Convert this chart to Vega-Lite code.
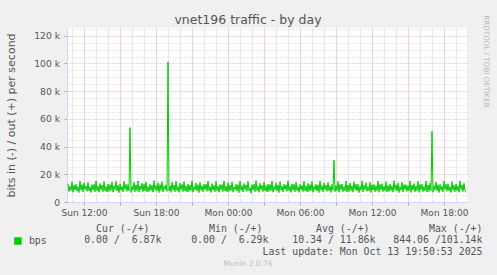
{
  "$schema": "https://vega.github.io/schema/vega-lite/v6.json",
  "autosize": "none",
  "width": 400,
  "height": 174,
  "padding": {"left": 67, "top": 28, "right": 30, "bottom": 73},
  "background": "#f0f0f0",
  "config": {
    "view": {"fill": "#ffffff", "stroke": null},
    "font": "DejaVu Sans"
  },
  "title": {
    "text": "vnet196 traffic - by day",
    "anchor": "middle",
    "frame": "group",
    "dx": -19,
    "dy": 14,
    "font": "DejaVu Sans",
    "fontSize": 12.5,
    "fontWeight": "normal",
    "color": "#555555",
    "offset": 2
  },
  "resolve": {"axis": {"x": "independent", "y": "independent"}},
  "layer": [
    {
      "data": {"values": [
        {"t":"2025-10-12T10:40:00Z","v":13200},{"t":"2025-10-12T10:45:00Z","v":7600},
        {"t":"2025-10-12T10:50:00Z","v":11400},{"t":"2025-10-12T10:55:00Z","v":8300},
        {"t":"2025-10-12T11:00:00Z","v":14600},{"t":"2025-10-12T11:05:00Z","v":7100},
        {"t":"2025-10-12T11:10:00Z","v":12100},{"t":"2025-10-12T11:15:00Z","v":8800},
        {"t":"2025-10-12T11:20:00Z","v":12800},{"t":"2025-10-12T11:25:00Z","v":7900},
        {"t":"2025-10-12T11:30:00Z","v":11000},{"t":"2025-10-12T11:35:00Z","v":6800},
        {"t":"2025-10-12T11:40:00Z","v":15100},{"t":"2025-10-12T11:45:00Z","v":8500},
        {"t":"2025-10-12T11:50:00Z","v":12600},{"t":"2025-10-12T11:55:00Z","v":7300},
        {"t":"2025-10-12T12:00:00Z","v":13900},{"t":"2025-10-12T12:05:00Z","v":9000},
        {"t":"2025-10-12T12:10:00Z","v":11700},{"t":"2025-10-12T12:15:00Z","v":7700},
        {"t":"2025-10-12T12:20:00Z","v":14200},{"t":"2025-10-12T12:25:00Z","v":8100},
        {"t":"2025-10-12T12:30:00Z","v":10900},{"t":"2025-10-12T12:35:00Z","v":6900},
        {"t":"2025-10-12T12:40:00Z","v":12500},{"t":"2025-10-12T12:45:00Z","v":8600},
        {"t":"2025-10-12T12:50:00Z","v":12800},{"t":"2025-10-12T12:55:00Z","v":7400},
        {"t":"2025-10-12T13:00:00Z","v":15300},{"t":"2025-10-12T13:05:00Z","v":8200},
        {"t":"2025-10-12T13:10:00Z","v":11500},{"t":"2025-10-12T13:15:00Z","v":7000},
        {"t":"2025-10-12T13:20:00Z","v":13400},{"t":"2025-10-12T13:25:00Z","v":8900},
        {"t":"2025-10-12T13:30:00Z","v":12200},{"t":"2025-10-12T13:35:00Z","v":7500},
        {"t":"2025-10-12T13:40:00Z","v":14800},{"t":"2025-10-12T13:45:00Z","v":8000},
        {"t":"2025-10-12T13:50:00Z","v":11100},{"t":"2025-10-12T13:55:00Z","v":7200},
        {"t":"2025-10-12T14:00:00Z","v":12900},{"t":"2025-10-12T14:05:00Z","v":7600},
        {"t":"2025-10-12T14:10:00Z","v":12500},{"t":"2025-10-12T14:15:00Z","v":8300},
        {"t":"2025-10-12T14:20:00Z","v":14500},{"t":"2025-10-12T14:25:00Z","v":7100},
        {"t":"2025-10-12T14:30:00Z","v":11800},{"t":"2025-10-12T14:35:00Z","v":8800},
        {"t":"2025-10-12T14:40:00Z","v":15000},{"t":"2025-10-12T14:45:00Z","v":7900},
        {"t":"2025-10-12T14:50:00Z","v":12000},{"t":"2025-10-12T14:55:00Z","v":6800},
        {"t":"2025-10-12T15:00:00Z","v":13100},{"t":"2025-10-12T15:05:00Z","v":8500},
        {"t":"2025-10-12T15:10:00Z","v":11300},{"t":"2025-10-12T15:15:00Z","v":7300},
        {"t":"2025-10-12T15:20:00Z","v":14900},{"t":"2025-10-12T15:25:00Z","v":9000},
        {"t":"2025-10-12T15:30:00Z","v":12700},{"t":"2025-10-12T15:35:00Z","v":7700},
        {"t":"2025-10-12T15:40:00Z","v":12600},{"t":"2025-10-12T15:45:00Z","v":8100},
        {"t":"2025-10-12T15:50:00Z","v":53700},{"t":"2025-10-12T15:55:00Z","v":6900},
        {"t":"2025-10-12T16:00:00Z","v":11200},{"t":"2025-10-12T16:05:00Z","v":8600},
        {"t":"2025-10-12T16:10:00Z","v":14100},{"t":"2025-10-12T16:15:00Z","v":7400},
        {"t":"2025-10-12T16:20:00Z","v":12400},{"t":"2025-10-12T16:25:00Z","v":8200},
        {"t":"2025-10-12T16:30:00Z","v":15200},{"t":"2025-10-12T16:35:00Z","v":7000},
        {"t":"2025-10-12T16:40:00Z","v":11600},{"t":"2025-10-12T16:45:00Z","v":8900},
        {"t":"2025-10-12T16:50:00Z","v":13600},{"t":"2025-10-12T16:55:00Z","v":7500},
        {"t":"2025-10-12T17:00:00Z","v":12900},{"t":"2025-10-12T17:05:00Z","v":8000},
        {"t":"2025-10-12T17:10:00Z","v":14400},{"t":"2025-10-12T17:15:00Z","v":7200},
        {"t":"2025-10-12T17:20:00Z","v":11000},{"t":"2025-10-12T17:25:00Z","v":7600},
        {"t":"2025-10-12T17:30:00Z","v":12700},{"t":"2025-10-12T17:35:00Z","v":8300},
        {"t":"2025-10-12T17:40:00Z","v":12100},{"t":"2025-10-12T17:45:00Z","v":7100},
        {"t":"2025-10-12T17:50:00Z","v":15400},{"t":"2025-10-12T17:55:00Z","v":8800},
        {"t":"2025-10-12T18:00:00Z","v":11900},{"t":"2025-10-12T18:05:00Z","v":7900},
        {"t":"2025-10-12T18:10:00Z","v":13800},{"t":"2025-10-12T18:15:00Z","v":6800},
        {"t":"2025-10-12T18:20:00Z","v":12600},{"t":"2025-10-12T18:25:00Z","v":8500},
        {"t":"2025-10-12T18:30:00Z","v":14700},{"t":"2025-10-12T18:35:00Z","v":7300},
        {"t":"2025-10-12T18:40:00Z","v":11400},{"t":"2025-10-12T18:45:00Z","v":9000},
        {"t":"2025-10-12T18:50:00Z","v":12400},{"t":"2025-10-12T18:55:00Z","v":7700},
        {"t":"2025-10-12T19:00:00Z","v":101140},{"t":"2025-10-12T19:05:00Z","v":8100},
        {"t":"2025-10-12T19:10:00Z","v":11800},{"t":"2025-10-12T19:15:00Z","v":6900},
        {"t":"2025-10-12T19:20:00Z","v":14300},{"t":"2025-10-12T19:25:00Z","v":8600},
        {"t":"2025-10-12T19:30:00Z","v":12200},{"t":"2025-10-12T19:35:00Z","v":7400},
        {"t":"2025-10-12T19:40:00Z","v":15000},{"t":"2025-10-12T19:45:00Z","v":8200},
        {"t":"2025-10-12T19:50:00Z","v":11300},{"t":"2025-10-12T19:55:00Z","v":7000},
        {"t":"2025-10-12T20:00:00Z","v":13500},{"t":"2025-10-12T20:05:00Z","v":8900},
        {"t":"2025-10-12T20:10:00Z","v":12800},{"t":"2025-10-12T20:15:00Z","v":7500},
        {"t":"2025-10-12T20:20:00Z","v":14600},{"t":"2025-10-12T20:25:00Z","v":8000},
        {"t":"2025-10-12T20:30:00Z","v":11500},{"t":"2025-10-12T20:35:00Z","v":7200},
        {"t":"2025-10-12T20:40:00Z","v":12900},{"t":"2025-10-12T20:45:00Z","v":7600},
        {"t":"2025-10-12T20:50:00Z","v":12300},{"t":"2025-10-12T20:55:00Z","v":8300},
        {"t":"2025-10-12T21:00:00Z","v":15300},{"t":"2025-10-12T21:05:00Z","v":7100},
        {"t":"2025-10-12T21:10:00Z","v":11100},{"t":"2025-10-12T21:15:00Z","v":8800},
        {"t":"2025-10-12T21:20:00Z","v":13700},{"t":"2025-10-12T21:25:00Z","v":7900},
        {"t":"2025-10-12T21:30:00Z","v":12500},{"t":"2025-10-12T21:35:00Z","v":6800},
        {"t":"2025-10-12T21:40:00Z","v":14200},{"t":"2025-10-12T21:45:00Z","v":8500},
        {"t":"2025-10-12T21:50:00Z","v":11700},{"t":"2025-10-12T21:55:00Z","v":7300},
        {"t":"2025-10-12T22:00:00Z","v":12800},{"t":"2025-10-12T22:05:00Z","v":9000},
        {"t":"2025-10-12T22:10:00Z","v":12900},{"t":"2025-10-12T22:15:00Z","v":7700},
        {"t":"2025-10-12T22:20:00Z","v":15100},{"t":"2025-10-12T22:25:00Z","v":8100},
        {"t":"2025-10-12T22:30:00Z","v":11200},{"t":"2025-10-12T22:35:00Z","v":6900},
        {"t":"2025-10-12T22:40:00Z","v":13300},{"t":"2025-10-12T22:45:00Z","v":8600},
        {"t":"2025-10-12T22:50:00Z","v":12000},{"t":"2025-10-12T22:55:00Z","v":7400},
        {"t":"2025-10-12T23:00:00Z","v":14800},{"t":"2025-10-12T23:05:00Z","v":8200},
        {"t":"2025-10-12T23:10:00Z","v":11600},{"t":"2025-10-12T23:15:00Z","v":7000},
        {"t":"2025-10-12T23:20:00Z","v":12600},{"t":"2025-10-12T23:25:00Z","v":8900},
        {"t":"2025-10-12T23:30:00Z","v":12700},{"t":"2025-10-12T23:35:00Z","v":7500},
        {"t":"2025-10-12T23:40:00Z","v":15200},{"t":"2025-10-12T23:45:00Z","v":8000},
        {"t":"2025-10-12T23:50:00Z","v":11400},{"t":"2025-10-12T23:55:00Z","v":7200},
        {"t":"2025-10-13T00:00:00Z","v":13900},{"t":"2025-10-13T00:05:00Z","v":7600},
        {"t":"2025-10-13T00:10:00Z","v":12200},{"t":"2025-10-13T00:15:00Z","v":8300},
        {"t":"2025-10-13T00:20:00Z","v":14500},{"t":"2025-10-13T00:25:00Z","v":7100},
        {"t":"2025-10-13T00:30:00Z","v":11000},{"t":"2025-10-13T00:35:00Z","v":8800},
        {"t":"2025-10-13T00:40:00Z","v":12700},{"t":"2025-10-13T00:45:00Z","v":7900},
        {"t":"2025-10-13T00:50:00Z","v":12600},{"t":"2025-10-13T00:55:00Z","v":6800},
        {"t":"2025-10-13T01:00:00Z","v":15000},{"t":"2025-10-13T01:05:00Z","v":8500},
        {"t":"2025-10-13T01:10:00Z","v":11800},{"t":"2025-10-13T01:15:00Z","v":7300},
        {"t":"2025-10-13T01:20:00Z","v":13400},{"t":"2025-10-13T01:25:00Z","v":9000},
        {"t":"2025-10-13T01:30:00Z","v":12400},{"t":"2025-10-13T01:35:00Z","v":7700},
        {"t":"2025-10-13T01:40:00Z","v":14900},{"t":"2025-10-13T01:45:00Z","v":8100},
        {"t":"2025-10-13T01:50:00Z","v":10300},{"t":"2025-10-13T01:55:00Z","v":6290},
        {"t":"2025-10-13T02:00:00Z","v":12500},{"t":"2025-10-13T02:05:00Z","v":8600},
        {"t":"2025-10-13T02:10:00Z","v":12900},{"t":"2025-10-13T02:15:00Z","v":7400},
        {"t":"2025-10-13T02:20:00Z","v":15400},{"t":"2025-10-13T02:25:00Z","v":8200},
        {"t":"2025-10-13T02:30:00Z","v":11500},{"t":"2025-10-13T02:35:00Z","v":7000},
        {"t":"2025-10-13T02:40:00Z","v":13600},{"t":"2025-10-13T02:45:00Z","v":8900},
        {"t":"2025-10-13T02:50:00Z","v":12100},{"t":"2025-10-13T02:55:00Z","v":7500},
        {"t":"2025-10-13T03:00:00Z","v":14300},{"t":"2025-10-13T03:05:00Z","v":8000},
        {"t":"2025-10-13T03:10:00Z","v":11900},{"t":"2025-10-13T03:15:00Z","v":7200},
        {"t":"2025-10-13T03:20:00Z","v":12900},{"t":"2025-10-13T03:25:00Z","v":7600},
        {"t":"2025-10-13T03:30:00Z","v":12700},{"t":"2025-10-13T03:35:00Z","v":8300},
        {"t":"2025-10-13T03:40:00Z","v":15100},{"t":"2025-10-13T03:45:00Z","v":7100},
        {"t":"2025-10-13T03:50:00Z","v":11200},{"t":"2025-10-13T03:55:00Z","v":8800},
        {"t":"2025-10-13T04:00:00Z","v":13800},{"t":"2025-10-13T04:05:00Z","v":7900},
        {"t":"2025-10-13T04:10:00Z","v":12300},{"t":"2025-10-13T04:15:00Z","v":6800},
        {"t":"2025-10-13T04:20:00Z","v":14600},{"t":"2025-10-13T04:25:00Z","v":8500},
        {"t":"2025-10-13T04:30:00Z","v":11600},{"t":"2025-10-13T04:35:00Z","v":7300},
        {"t":"2025-10-13T04:40:00Z","v":12800},{"t":"2025-10-13T04:45:00Z","v":9000},
        {"t":"2025-10-13T04:50:00Z","v":12500},{"t":"2025-10-13T04:55:00Z","v":7700},
        {"t":"2025-10-13T05:00:00Z","v":15300},{"t":"2025-10-13T05:05:00Z","v":8100},
        {"t":"2025-10-13T05:10:00Z","v":11400},{"t":"2025-10-13T05:15:00Z","v":6900},
        {"t":"2025-10-13T05:20:00Z","v":13200},{"t":"2025-10-13T05:25:00Z","v":8600},
        {"t":"2025-10-13T05:30:00Z","v":12800},{"t":"2025-10-13T05:35:00Z","v":7400},
        {"t":"2025-10-13T05:40:00Z","v":14400},{"t":"2025-10-13T05:45:00Z","v":8200},
        {"t":"2025-10-13T05:50:00Z","v":11100},{"t":"2025-10-13T05:55:00Z","v":7000},
        {"t":"2025-10-13T06:00:00Z","v":12600},{"t":"2025-10-13T06:05:00Z","v":8900},
        {"t":"2025-10-13T06:10:00Z","v":12000},{"t":"2025-10-13T06:15:00Z","v":7500},
        {"t":"2025-10-13T06:20:00Z","v":15000},{"t":"2025-10-13T06:25:00Z","v":8000},
        {"t":"2025-10-13T06:30:00Z","v":11700},{"t":"2025-10-13T06:35:00Z","v":7200},
        {"t":"2025-10-13T06:40:00Z","v":13500},{"t":"2025-10-13T06:45:00Z","v":7600},
        {"t":"2025-10-13T06:50:00Z","v":12600},{"t":"2025-10-13T06:55:00Z","v":8300},
        {"t":"2025-10-13T07:00:00Z","v":14700},{"t":"2025-10-13T07:05:00Z","v":7100},
        {"t":"2025-10-13T07:10:00Z","v":11300},{"t":"2025-10-13T07:15:00Z","v":8800},
        {"t":"2025-10-13T07:20:00Z","v":12900},{"t":"2025-10-13T07:25:00Z","v":7900},
        {"t":"2025-10-13T07:30:00Z","v":12400},{"t":"2025-10-13T07:35:00Z","v":6800},
        {"t":"2025-10-13T07:40:00Z","v":15200},{"t":"2025-10-13T07:45:00Z","v":8500},
        {"t":"2025-10-13T07:50:00Z","v":11800},{"t":"2025-10-13T07:55:00Z","v":7300},
        {"t":"2025-10-13T08:00:00Z","v":13700},{"t":"2025-10-13T08:05:00Z","v":9000},
        {"t":"2025-10-13T08:10:00Z","v":12200},{"t":"2025-10-13T08:15:00Z","v":7700},
        {"t":"2025-10-13T08:20:00Z","v":14100},{"t":"2025-10-13T08:25:00Z","v":8100},
        {"t":"2025-10-13T08:30:00Z","v":11500},{"t":"2025-10-13T08:35:00Z","v":6900},
        {"t":"2025-10-13T08:40:00Z","v":12700},{"t":"2025-10-13T08:45:00Z","v":8600},
        {"t":"2025-10-13T08:50:00Z","v":30200},{"t":"2025-10-13T08:55:00Z","v":7400},
        {"t":"2025-10-13T09:00:00Z","v":11900},{"t":"2025-10-13T09:05:00Z","v":8200},
        {"t":"2025-10-13T09:10:00Z","v":14800},{"t":"2025-10-13T09:15:00Z","v":7000},
        {"t":"2025-10-13T09:20:00Z","v":12700},{"t":"2025-10-13T09:25:00Z","v":8900},
        {"t":"2025-10-13T09:30:00Z","v":13000},{"t":"2025-10-13T09:35:00Z","v":7500},
        {"t":"2025-10-13T09:40:00Z","v":11200},{"t":"2025-10-13T09:45:00Z","v":8000},
        {"t":"2025-10-13T09:50:00Z","v":15100},{"t":"2025-10-13T09:55:00Z","v":7200},
        {"t":"2025-10-13T10:00:00Z","v":12300},{"t":"2025-10-13T10:05:00Z","v":7600},
        {"t":"2025-10-13T10:10:00Z","v":13600},{"t":"2025-10-13T10:15:00Z","v":8300},
        {"t":"2025-10-13T10:20:00Z","v":11600},{"t":"2025-10-13T10:25:00Z","v":7100},
        {"t":"2025-10-13T10:30:00Z","v":14500},{"t":"2025-10-13T10:35:00Z","v":8800},
        {"t":"2025-10-13T10:40:00Z","v":12900},{"t":"2025-10-13T10:45:00Z","v":7900},
        {"t":"2025-10-13T10:50:00Z","v":12800},{"t":"2025-10-13T10:55:00Z","v":6800},
        {"t":"2025-10-13T11:00:00Z","v":11400},{"t":"2025-10-13T11:05:00Z","v":8500},
        {"t":"2025-10-13T11:10:00Z","v":15300},{"t":"2025-10-13T11:15:00Z","v":7300},
        {"t":"2025-10-13T11:20:00Z","v":12100},{"t":"2025-10-13T11:25:00Z","v":9000},
        {"t":"2025-10-13T11:30:00Z","v":13900},{"t":"2025-10-13T11:35:00Z","v":7700},
        {"t":"2025-10-13T11:40:00Z","v":11000},{"t":"2025-10-13T11:45:00Z","v":8100},
        {"t":"2025-10-13T11:50:00Z","v":14200},{"t":"2025-10-13T11:55:00Z","v":6900},
        {"t":"2025-10-13T12:00:00Z","v":12500},{"t":"2025-10-13T12:05:00Z","v":8600},
        {"t":"2025-10-13T12:10:00Z","v":12600},{"t":"2025-10-13T12:15:00Z","v":7400},
        {"t":"2025-10-13T12:20:00Z","v":11700},{"t":"2025-10-13T12:25:00Z","v":8200},
        {"t":"2025-10-13T12:30:00Z","v":15000},{"t":"2025-10-13T12:35:00Z","v":7000},
        {"t":"2025-10-13T12:40:00Z","v":12800},{"t":"2025-10-13T12:45:00Z","v":8900},
        {"t":"2025-10-13T12:50:00Z","v":13300},{"t":"2025-10-13T12:55:00Z","v":7500},
        {"t":"2025-10-13T13:00:00Z","v":11300},{"t":"2025-10-13T13:05:00Z","v":8000},
        {"t":"2025-10-13T13:10:00Z","v":14600},{"t":"2025-10-13T13:15:00Z","v":7200},
        {"t":"2025-10-13T13:20:00Z","v":12000},{"t":"2025-10-13T13:25:00Z","v":7600},
        {"t":"2025-10-13T13:30:00Z","v":12900},{"t":"2025-10-13T13:35:00Z","v":8300},
        {"t":"2025-10-13T13:40:00Z","v":11600},{"t":"2025-10-13T13:45:00Z","v":7100},
        {"t":"2025-10-13T13:50:00Z","v":15400},{"t":"2025-10-13T13:55:00Z","v":8800},
        {"t":"2025-10-13T14:00:00Z","v":12400},{"t":"2025-10-13T14:05:00Z","v":7900},
        {"t":"2025-10-13T14:10:00Z","v":13700},{"t":"2025-10-13T14:15:00Z","v":6800},
        {"t":"2025-10-13T14:20:00Z","v":11100},{"t":"2025-10-13T14:25:00Z","v":8500},
        {"t":"2025-10-13T14:30:00Z","v":14300},{"t":"2025-10-13T14:35:00Z","v":7300},
        {"t":"2025-10-13T14:40:00Z","v":12600},{"t":"2025-10-13T14:45:00Z","v":9000},
        {"t":"2025-10-13T14:50:00Z","v":12500},{"t":"2025-10-13T14:55:00Z","v":7700},
        {"t":"2025-10-13T15:00:00Z","v":11900},{"t":"2025-10-13T15:05:00Z","v":8100},
        {"t":"2025-10-13T15:10:00Z","v":15200},{"t":"2025-10-13T15:15:00Z","v":6900},
        {"t":"2025-10-13T15:20:00Z","v":12200},{"t":"2025-10-13T15:25:00Z","v":8600},
        {"t":"2025-10-13T15:30:00Z","v":13400},{"t":"2025-10-13T15:35:00Z","v":7400},
        {"t":"2025-10-13T15:40:00Z","v":11500},{"t":"2025-10-13T15:45:00Z","v":8200},
        {"t":"2025-10-13T15:50:00Z","v":14900},{"t":"2025-10-13T15:55:00Z","v":7000},
        {"t":"2025-10-13T16:00:00Z","v":12700},{"t":"2025-10-13T16:05:00Z","v":8900},
        {"t":"2025-10-13T16:10:00Z","v":12800},{"t":"2025-10-13T16:15:00Z","v":7500},
        {"t":"2025-10-13T16:20:00Z","v":11200},{"t":"2025-10-13T16:25:00Z","v":8000},
        {"t":"2025-10-13T16:30:00Z","v":15000},{"t":"2025-10-13T16:35:00Z","v":7200},
        {"t":"2025-10-13T16:40:00Z","v":12300},{"t":"2025-10-13T16:45:00Z","v":7600},
        {"t":"2025-10-13T16:50:00Z","v":13600},{"t":"2025-10-13T16:55:00Z","v":8300},
        {"t":"2025-10-13T17:00:00Z","v":51000},{"t":"2025-10-13T17:05:00Z","v":7100},
        {"t":"2025-10-13T17:10:00Z","v":11800},{"t":"2025-10-13T17:15:00Z","v":8800},
        {"t":"2025-10-13T17:20:00Z","v":14400},{"t":"2025-10-13T17:25:00Z","v":7900},
        {"t":"2025-10-13T17:30:00Z","v":12500},{"t":"2025-10-13T17:35:00Z","v":6800},
        {"t":"2025-10-13T17:40:00Z","v":12700},{"t":"2025-10-13T17:45:00Z","v":8500},
        {"t":"2025-10-13T17:50:00Z","v":11400},{"t":"2025-10-13T17:55:00Z","v":7300},
        {"t":"2025-10-13T18:00:00Z","v":15100},{"t":"2025-10-13T18:05:00Z","v":9000},
        {"t":"2025-10-13T18:10:00Z","v":12900},{"t":"2025-10-13T18:15:00Z","v":7700},
        {"t":"2025-10-13T18:20:00Z","v":13200},{"t":"2025-10-13T18:25:00Z","v":8100},
        {"t":"2025-10-13T18:30:00Z","v":11000},{"t":"2025-10-13T18:35:00Z","v":6900},
        {"t":"2025-10-13T18:40:00Z","v":14700},{"t":"2025-10-13T18:45:00Z","v":8600},
        {"t":"2025-10-13T18:50:00Z","v":12100},{"t":"2025-10-13T18:55:00Z","v":7400},
        {"t":"2025-10-13T19:00:00Z","v":12900},{"t":"2025-10-13T19:05:00Z","v":8200},
        {"t":"2025-10-13T19:10:00Z","v":11700},{"t":"2025-10-13T19:15:00Z","v":7000},
        {"t":"2025-10-13T19:20:00Z","v":15300},{"t":"2025-10-13T19:25:00Z","v":8900},
        {"t":"2025-10-13T19:30:00Z","v":12400},{"t":"2025-10-13T19:35:00Z","v":7500},
        {"t":"2025-10-13T19:40:00Z","v":13500},{"t":"2025-10-13T19:45:00Z","v":8000},
        {"t":"2025-10-13T19:50:00Z","v":6870}
      ]},
      "mark": {"type": "line", "strokeWidth": 1, "interpolate": "linear"},
      "encoding": {
        "x": {
          "field": "t", "type": "temporal",
          "scale": {"type": "utc", "domain": [
            {"year": 2025, "month": 10, "date": 12, "hours": 10, "minutes": 35, "utc": true},
            {"year": 2025, "month": 10, "date": 13, "hours": 19, "minutes": 55, "utc": true}
          ]},
          "axis": {
            "orient": "bottom",
            "values": [
              {"year": 2025, "month": 10, "date": 12, "hours": 11, "utc": true},
              {"year": 2025, "month": 10, "date": 12, "hours": 12, "utc": true},
              {"year": 2025, "month": 10, "date": 12, "hours": 13, "utc": true},
              {"year": 2025, "month": 10, "date": 12, "hours": 14, "utc": true},
              {"year": 2025, "month": 10, "date": 12, "hours": 15, "utc": true},
              {"year": 2025, "month": 10, "date": 12, "hours": 16, "utc": true},
              {"year": 2025, "month": 10, "date": 12, "hours": 17, "utc": true},
              {"year": 2025, "month": 10, "date": 12, "hours": 18, "utc": true},
              {"year": 2025, "month": 10, "date": 12, "hours": 19, "utc": true},
              {"year": 2025, "month": 10, "date": 12, "hours": 20, "utc": true},
              {"year": 2025, "month": 10, "date": 12, "hours": 21, "utc": true},
              {"year": 2025, "month": 10, "date": 12, "hours": 22, "utc": true},
              {"year": 2025, "month": 10, "date": 12, "hours": 23, "utc": true},
              {"year": 2025, "month": 10, "date": 13, "hours": 0, "utc": true},
              {"year": 2025, "month": 10, "date": 13, "hours": 1, "utc": true},
              {"year": 2025, "month": 10, "date": 13, "hours": 2, "utc": true},
              {"year": 2025, "month": 10, "date": 13, "hours": 3, "utc": true},
              {"year": 2025, "month": 10, "date": 13, "hours": 4, "utc": true},
              {"year": 2025, "month": 10, "date": 13, "hours": 5, "utc": true},
              {"year": 2025, "month": 10, "date": 13, "hours": 6, "utc": true},
              {"year": 2025, "month": 10, "date": 13, "hours": 7, "utc": true},
              {"year": 2025, "month": 10, "date": 13, "hours": 8, "utc": true},
              {"year": 2025, "month": 10, "date": 13, "hours": 9, "utc": true},
              {"year": 2025, "month": 10, "date": 13, "hours": 10, "utc": true},
              {"year": 2025, "month": 10, "date": 13, "hours": 11, "utc": true},
              {"year": 2025, "month": 10, "date": 13, "hours": 12, "utc": true},
              {"year": 2025, "month": 10, "date": 13, "hours": 13, "utc": true},
              {"year": 2025, "month": 10, "date": 13, "hours": 14, "utc": true},
              {"year": 2025, "month": 10, "date": 13, "hours": 15, "utc": true},
              {"year": 2025, "month": 10, "date": 13, "hours": 16, "utc": true},
              {"year": 2025, "month": 10, "date": 13, "hours": 17, "utc": true},
              {"year": 2025, "month": 10, "date": 13, "hours": 18, "utc": true},
              {"year": 2025, "month": 10, "date": 13, "hours": 19, "utc": true}
            ],
            "labelExpr": "utchours(datum.value) % 6 == 0 ? utcFormat(datum.value, '%a %H:%M') : ''",
            "labelOverlap": false, "labelFlush": false, "labelBound": false,
            "labelFont": "DejaVu Sans", "labelFontSize": 9, "labelColor": "#555555",
            "labelPadding": 3,
            "tickSize": 3,
            "tickColor": {"condition": {"test": "utchours(datum.value) % 3 == 0", "value": "#e09090"}, "value": "transparent"},
            "grid": true,
            "gridColor": {"condition": {"test": "utchours(datum.value) % 3 == 0", "value": "#e2a4a4"}, "value": "#cfcfcf"},
            "gridDash": [1, 1],
            "domain": true, "domainColor": "#cfd6f8",
            "title": [
              "Cur\u00a0(-/+)\u00a0\u00a0\u00a0\u00a0\u00a0\u00a0\u00a0\u00a0\u00a0\u00a0Min\u00a0(-/+)\u00a0\u00a0\u00a0\u00a0\u00a0\u00a0\u00a0\u00a0\u00a0Avg\u00a0(-/+)\u00a0\u00a0\u00a0\u00a0\u00a0\u00a0\u00a0\u00a0\u00a0\u00a0Max\u00a0(-/+)\u00a0",
              "0.00\u00a0/\u00a0\u00a06.87k\u00a0\u00a0\u00a0\u00a0\u00a00.00\u00a0/\u00a0\u00a06.29k\u00a0\u00a0\u00a0\u00a010.34\u00a0/\u00a011.86k\u00a0\u00a0\u00a0844.06\u00a0/101.14k",
              "Last\u00a0update:\u00a0Mon\u00a0Oct\u00a013\u00a019:50:53\u00a02025"
            ],
            "titleFont": "DejaVu Sans Mono", "titleFontSize": 9.9, "titleFontWeight": "normal",
            "titleColor": "#555555", "titleAlign": "right", "titleAnchor": "end",
            "titleX": 415, "titleY": 29, "titleBaseline": "alphabetic", "titleLineHeight": 11.8
          }
        },
        "y": {
          "field": "v", "type": "quantitative",
          "scale": {"domain": [0, 125600], "nice": false, "zero": false},
          "axis": {
            "orient": "left",
            "values": [0, 5000, 10000, 15000, 20000, 25000, 30000, 35000, 40000, 45000, 50000, 55000, 60000, 65000, 70000, 75000, 80000, 85000, 90000, 95000, 100000, 105000, 110000, 115000, 120000, 125000],
            "labelExpr": "datum.value % 20000 == 0 ? (datum.value == 0 ? '0' : format(datum.value / 1000, 'd') + ' k') : ''",
            "labelFont": "DejaVu Sans", "labelFontSize": 9.2, "labelColor": "#555555",
            "labelPadding": 4.5, "labelOverlap": false, "labelFlush": false, "labelBound": false,
            "tickSize": 3,
            "tickColor": {"condition": {"test": "datum.value % 20000 == 0", "value": "#e09090"}, "value": "transparent"},
            "grid": true,
            "gridColor": {"condition": {"test": "datum.value % 20000 == 0", "value": "#e2a4a4"}, "value": "#d6d6d6"},
            "gridDash": [1, 2],
            "domain": true, "domainColor": "#cfd6f8",
            "title": "bits in (-) / out (+) per second",
            "titleFont": "DejaVu Sans", "titleFontSize": 11, "titleFontWeight": "normal",
            "titleColor": "#555555", "titleAngle": -90, "titleX": -56, "titleBaseline": "middle"
          }
        },
        "color": {
          "datum": "bps", "type": "nominal",
          "scale": {"range": ["#00cc00"]},
          "legend": {
            "orient": "none", "legendX": -54, "legendY": 208,
            "title": null, "padding": 0, "offset": 0,
            "symbolType": "square", "symbolSize": 36, "labelOffset": 6,
            "labelFont": "DejaVu Sans Mono", "labelFontSize": 9.9, "labelColor": "#555555",
            "encode": {"symbols": {"update": {"fill": {"value": "#00cc00"}, "stroke": {"value": "transparent"}, "shape": {"value": "square"}, "size": {"value": 36}}}}
          }
        }
      }
    },
    {
      "mark": {"type": "rule", "color": "#000000", "strokeWidth": 1},
      "encoding": {
        "y": {
          "datum": 0, "type": "quantitative",
          "axis": {
            "orient": "right", "labels": false, "ticks": false, "domain": false, "grid": false,
            "title": "RRDTOOL / TOBI OETIKER",
            "titleFont": "DejaVu Sans", "titleFontSize": 7.2, "titleFontWeight": "normal",
            "titleColor": "#b8b8b8", "titleAngle": 90, "titleX": 18.5, "titleY": 33,
            "titleAlign": "center", "titleBaseline": "middle"
          }
        },
        "strokeDash": {
          "datum": "Munin 2.0.76", "type": "nominal",
          "scale": {"range": [[1, 0]]},
          "legend": {
            "orient": "none", "legendX": 149, "legendY": 232,
            "title": null, "padding": 0, "offset": 0,
            "symbolSize": 1, "symbolOpacity": 0, "symbolStrokeWidth": 0, "labelOffset": 0,
            "labelFont": "DejaVu Sans", "labelFontSize": 7.5, "labelColor": "#c0c0c0"
          }
        }
      }
    },
    {
      "mark": {"type": "point", "shape": "triangle-right", "filled": true, "color": "#cfd6f8", "size": 30, "opacity": 1},
      "encoding": {
        "x": {"datum": {"year": 2025, "month": 10, "date": 13, "hours": 20, "minutes": 12, "utc": true}, "type": "temporal", "axis": null},
        "y": {"datum": 0, "type": "quantitative", "axis": null}
      }
    },
    {
      "mark": {"type": "point", "shape": "triangle-up", "filled": true, "color": "#cfd6f8", "size": 30, "opacity": 1},
      "encoding": {
        "x": {"datum": {"year": 2025, "month": 10, "date": 12, "hours": 10, "minutes": 35, "utc": true}, "type": "temporal", "axis": null},
        "y": {"datum": 128400, "type": "quantitative", "axis": null}
      }
    }
  ]
}
